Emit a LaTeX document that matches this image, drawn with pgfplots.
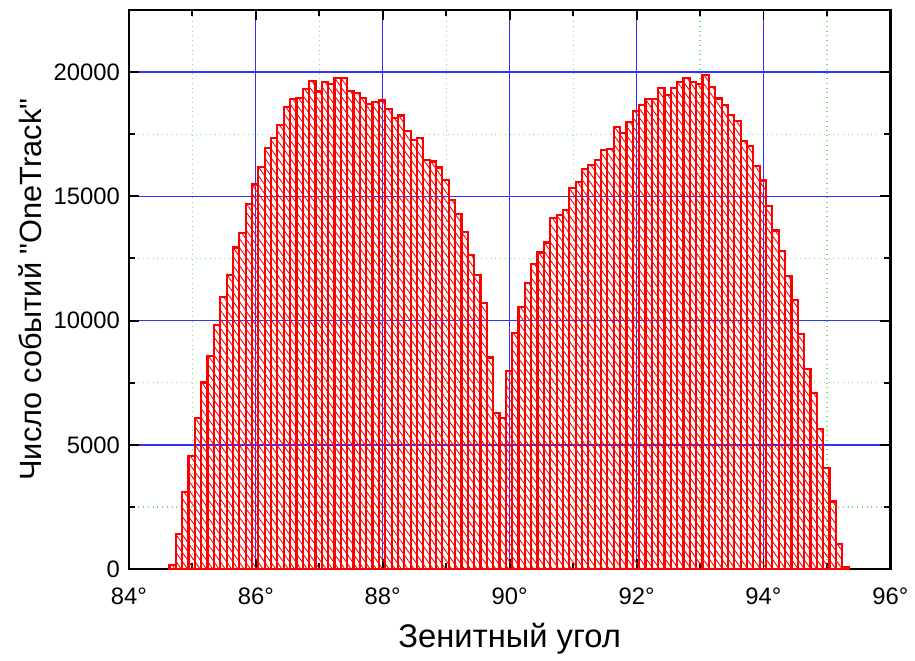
\documentclass[border=0pt]{standalone}
\usepackage{fontspec}
\setmainfont{Liberation Sans}[Ligatures=TeXOff]
\usepackage{pgfplots}
\usepackage{pgfplotstable}
\pgfplotsset{compat=1.18}
\usetikzlibrary{patterns.meta}

\definecolor{gridblue}{RGB}{50,50,255}
\definecolor{gridgreen}{RGB}{110,230,110}

% left bin edge, counts (last row closes the interval)
\pgfplotstableread{
x y
84.64 180
84.74 1402
84.84 3113
84.94 4555
85.04 6092
85.14 7507
85.24 8571
85.34 9811
85.44 10943
85.54 11846
85.64 12938
85.74 13531
85.84 14676
85.94 15472
86.04 16172
86.14 16941
86.24 17345
86.34 17884
86.44 18585
86.54 18922
86.64 18949
86.74 19326
86.84 19649
86.94 19218
87.04 19609
87.14 19528
87.24 19771
87.34 19771
87.44 19245
87.54 19164
87.64 18949
87.74 18720
87.84 18800
87.94 18854
88.04 18517
88.14 18140
88.24 18248
88.34 17641
88.44 17264
88.54 17345
88.64 16455
88.74 16402
88.84 16159
88.94 15660
89.04 14852
89.14 14299
89.24 13558
89.34 12628
89.44 11819
89.54 10701
89.64 8517
89.74 6294
89.84 6078
89.94 7978
90.04 9488
90.14 10539
90.24 11509
90.34 12291
90.44 12736
90.54 13140
90.64 14124
90.74 14245
90.84 14434
90.94 15350
91.04 15579
91.14 16092
91.24 16267
91.34 16469
91.44 16873
91.54 16900
91.64 17803
91.74 17547
91.84 17978
91.94 18423
92.04 18679
92.14 18922
92.24 18922
92.34 19353
92.44 19083
92.54 19366
92.64 19609
92.74 19757
92.84 19596
92.94 19515
93.04 19879
93.14 19393
93.24 18935
93.34 18666
93.44 18288
93.54 18046
93.64 17237
93.74 17008
93.84 16226
93.94 15633
94.04 14609
94.14 13625
94.24 12790
94.34 11792
94.44 10822
94.54 9447
94.64 8046
94.74 7102
94.84 5647
94.94 4057
95.04 2722
95.14 1024
95.24 80
95.34 80
}\histdata

\begin{document}
\begin{tikzpicture}
\begin{axis}[
    scale only axis,
    width=384pt, height=282pt,
    xmin=84, xmax=96, ymin=0, ymax=22500,
    xtick={84,86,...,96},
    minor xtick={85,87,...,95},
    xticklabels={84°,86°,88°,90°,92°,94°,96°},
    ytick={0,5000,...,20000},
    minor ytick={2500,7500,12500,17500},
    scaled y ticks=false,
    /pgf/number format/1000 sep={},
    /pgf/number format/assume math mode=true,
    grid=both,
    major grid style={gridblue, line width=0.65pt},
    minor grid style={gridgreen, dotted, line width=0.6pt},
    tick align=inside,
    major tick length=5pt,
    minor tick length=3pt,
    every tick/.style={black, line width=1pt},
    axis line style={black, line width=1.3pt},
    xticklabel style={font=\fontsize{12}{14}\selectfont, yshift=-6pt},
    yticklabel style={font=\fontsize{12}{14}\selectfont, xshift=-1pt},
    xlabel={Зенитный угол},
    ylabel={Число событий "OneTrack"},
    every axis x label/.style={at={([yshift=-35pt]axis description cs:0.5,0)}, anchor=center,
        font=\fontsize{16.5}{19}\selectfont},
    every axis y label/.style={at={([xshift=-50pt]axis description cs:0,0.5)}, anchor=center, rotate=90,
        font=\fontsize{15.5}{18}\selectfont},
]
\addplot[ybar interval, draw=red, line width=1.1pt,
    pattern={Lines[angle=-55, distance=2.6pt, line width=0.45pt]},
    pattern color=red] table[x=x, y=y] {\histdata};
\end{axis}
\path ([shift={(-65pt,-40.5pt)}]current axis.south west) ([shift={(8.5pt,5pt)}]current axis.north east);
\end{tikzpicture}
\end{document}
